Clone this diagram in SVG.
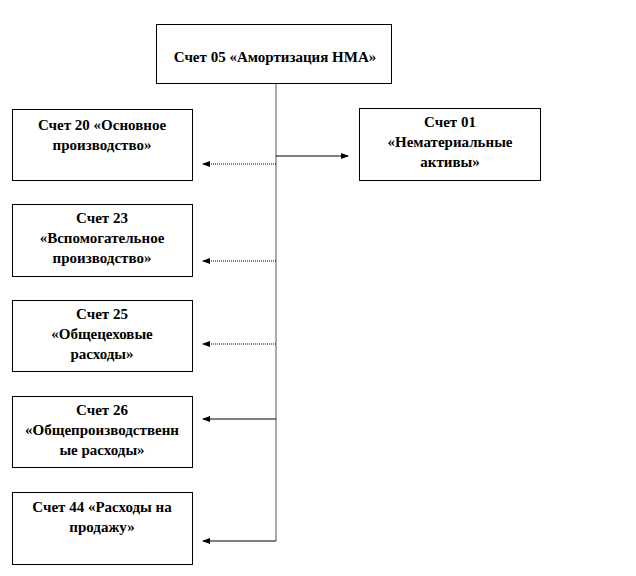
<svg xmlns="http://www.w3.org/2000/svg" width="636" height="576" viewBox="0 0 636 576">
<defs>
<marker id="ah" markerWidth="8" markerHeight="6" refX="7" refY="3" orient="auto" markerUnits="userSpaceOnUse">
<path d="M0,0 L8,3 L0,6 Z" fill="#000"/>
</marker>
<style>
.box{fill:#fff;stroke:#000;stroke-width:1}
.t{font-family:"Liberation Serif","Times New Roman",serif;font-weight:bold;font-size:15px;fill:#000;text-anchor:middle}
.ln{fill:none;stroke:#000;stroke-width:1}
.dot{fill:none;stroke:#000;stroke-width:1;stroke-dasharray:1 1}
.vl{fill:none;stroke:#555;stroke-width:1}
</style>
</defs>
<rect width="636" height="576" fill="#fff"/>
<g id="connectors">
<line class="vl" x1="276" y1="84" x2="276" y2="541"/>
<line class="ln" x1="276" y1="156" x2="348" y2="156" marker-end="url(#ah)"/>
<line class="dot" x1="276" y1="164" x2="203" y2="164" marker-end="url(#ah)"/>
<line class="dot" x1="276" y1="261" x2="203" y2="261" marker-end="url(#ah)"/>
<line class="dot" x1="276" y1="344" x2="203" y2="344" marker-end="url(#ah)"/>
<line class="ln" x1="276" y1="419" x2="203" y2="419" marker-end="url(#ah)"/>
<line class="ln" x1="276" y1="541" x2="203" y2="541" marker-end="url(#ah)"/>
</g>
<g id="n05">
<rect class="box" x="156.5" y="24.5" width="235" height="59"/>
<text class="t" x="275" y="62">Счет 05 «Амортизация НМА»</text>
</g>
<g id="n20">
<rect class="box" x="12.5" y="109.5" width="180" height="71"/>
<text class="t" x="102" y="130">Счет 20 «Основное</text>
<text class="t" x="102" y="150">производство»</text>
</g>
<g id="n01">
<rect class="box" x="359.5" y="108.5" width="181" height="72"/>
<text class="t" x="450" y="127">Счет 01</text>
<text class="t" x="450" y="147">«Нематериальные</text>
<text class="t" x="450" y="167">активы»</text>
</g>
<g id="n23">
<rect class="box" x="12.5" y="204.5" width="180" height="72"/>
<text class="t" x="102" y="223">Счет 23</text>
<text class="t" x="102" y="243">«Вспомогательное</text>
<text class="t" x="102" y="263">производство»</text>
</g>
<g id="n25">
<rect class="box" x="12.5" y="300.5" width="180" height="71"/>
<text class="t" x="102" y="319">Счет 25</text>
<text class="t" x="102" y="339">«Общецеховые</text>
<text class="t" x="102" y="359">расходы»</text>
</g>
<g id="n26">
<rect class="box" x="12.5" y="396.5" width="180" height="71"/>
<text class="t" x="102" y="415">Счет 26</text>
<text class="t" x="102" y="435">«Общепроизводственн</text>
<text class="t" x="102" y="455">ые расходы»</text>
</g>
<g id="n44">
<rect class="box" x="12.5" y="492.5" width="180" height="72"/>
<text class="t" x="102" y="512">Счет 44 «Расходы на</text>
<text class="t" x="102" y="532">продажу»</text>
</g>
</svg>
